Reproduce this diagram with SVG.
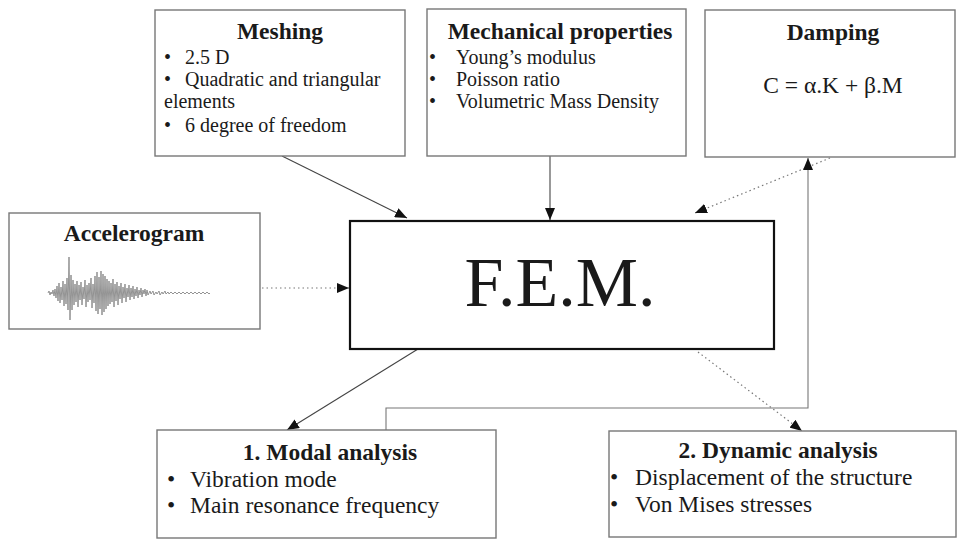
<svg xmlns="http://www.w3.org/2000/svg" width="965" height="550" viewBox="0 0 965 550">
<defs>
<marker id="ah" markerUnits="userSpaceOnUse" markerWidth="12" markerHeight="10" viewBox="0 0 12 10" refX="12" refY="5" orient="auto">
<path d="M0,0 L12,5 L0,10 z" fill="#111"/>
</marker>
<style>
.box{fill:#fff;stroke:#777;stroke-width:1.4}
.fem{fill:#fff;stroke:#111;stroke-width:2.2}
.t{font-family:"Liberation Serif","Times New Roman",serif;fill:#1a1a1a}
.title{font-weight:bold;font-size:23.5px;text-anchor:middle}
.s{font-size:20px}
.m{font-size:23.5px}
.c{fill:none;stroke:#444;stroke-width:1.1}
.d{fill:none;stroke:#777;stroke-width:1.2;stroke-dasharray:1.5 3}
</style>
</defs>
<rect width="965" height="550" fill="#fff"/>
<g id="connectors">
<line class="c" x1="282" y1="156" x2="407" y2="218" marker-end="url(#ah)"/>
<line class="c" x1="550" y1="156" x2="550" y2="220" marker-end="url(#ah)"/>
<line class="d" x1="830" y1="158" x2="695" y2="213" marker-end="url(#ah)"/>
<line class="d" x1="262" y1="288" x2="349" y2="288" marker-end="url(#ah)"/>
<line class="c" x1="418" y1="349" x2="287" y2="430" marker-end="url(#ah)"/>
<line class="d" x1="698" y1="352" x2="802" y2="431" marker-end="url(#ah)"/>
<polyline class="c" style="stroke:#777" points="386,430 386,408 808,408 808,158" marker-end="url(#ah)"/>
</g>
<g id="meshing">
<rect class="box" x="155" y="10" width="250" height="146"/>
<text class="t title" x="280" y="39">Meshing</text>
<text class="t s" x="164" y="64">•</text><text class="t s" x="185" y="64">2.5 D</text>
<text class="t s" x="164" y="86">•</text><text class="t s" x="185" y="86">Quadratic and triangular</text>
<text class="t s" x="164" y="108">elements</text>
<text class="t s" x="164" y="132">•</text><text class="t s" x="185" y="132">6 degree of freedom</text>
</g>
<g id="mechanical">
<rect class="box" x="427" y="9" width="259" height="147"/>
<text class="t title" x="560" y="39">Mechanical properties</text>
<text class="t s" x="429" y="64">•</text><text class="t s" x="456" y="64">Young’s modulus</text>
<text class="t s" x="429" y="86">•</text><text class="t s" x="456" y="86">Poisson ratio</text>
<text class="t s" x="429" y="108">•</text><text class="t s" x="456" y="108">Volumetric Mass Density</text>
</g>
<g id="damping">
<rect class="box" x="705" y="10" width="250" height="147"/>
<text class="t title" x="833" y="40">Damping</text>
<text class="t" x="833" y="93" font-size="23.5" text-anchor="middle">C = α.K + β.M</text>
</g>
<g id="accelerogram">
<rect class="box" x="9" y="213" width="251" height="116"/>
<text class="t title" x="134" y="241">Accelerogram</text>
<polyline fill="none" stroke="#888" stroke-width="0.9" points="48,293 49,291 50,295 51,292 52,294 53,290 54,296 55,289 56,298 57,286 58,301 59,283 60,303 61,287 62,300 63,281 64,306 65,284 66,304 67,278 68,310 69,257 70,320 71,275 72,310 73,280 74,305 75,284 76,302 77,281 78,307 79,285 80,300 81,282 82,305 83,287 84,299 85,280 86,307 87,285 88,302 89,283 90,300 91,278 92,308 93,284 94,303 95,276 96,311 97,272 98,314 99,277 100,309 101,271 102,315 103,274 104,312 105,276 106,309 107,279 108,306 109,281 110,304 111,283 112,302 113,279 114,307 115,284 116,301 117,282 118,305 119,286 120,299 121,283 122,303 123,287 124,298 125,284 126,302 127,288 128,297 129,285 130,300 131,288 132,297 133,286 134,299 135,289 136,296 137,287 138,298 139,290 140,295 141,288 142,297 143,290 144,294 145,289 146,296 147,290 148,295 150,291 151,294 153,291 154,295 156,292 157,294 159,291 160,295 162,292 163,294 165,291 166,294 168,292 169,294 171,292 173,294 175,292 177,294 179,292 181,294 183,292 185,294 187,292 189,294 191,292 193,294 195,292 197,294 199,292 201,294 203,292 205,294 207,292 209,294 210,293"/>
</g>
<g id="fem">
<rect class="fem" x="350" y="221" width="424" height="128"/>
<text class="t" x="560" y="306" font-size="70" text-anchor="middle">F.E.M.</text>
</g>
<g id="modal">
<rect class="box" x="157" y="430" width="339" height="108"/>
<text class="t title" x="330" y="460">1. Modal analysis</text>
<text class="t m" x="167" y="487">•</text><text class="t m" x="190" y="487">Vibration mode</text>
<text class="t m" x="167" y="513">•</text><text class="t m" x="190" y="513">Main resonance frequency</text>
</g>
<g id="dynamic">
<rect class="box" x="609" y="431" width="347" height="106"/>
<text class="t title" x="778" y="458">2. Dynamic analysis</text>
<text class="t m" x="610" y="485">•</text><text class="t m" x="635" y="485">Displacement of the structure</text>
<text class="t m" x="610" y="512">•</text><text class="t m" x="635" y="512">Von Mises stresses</text>
</g>
</svg>
